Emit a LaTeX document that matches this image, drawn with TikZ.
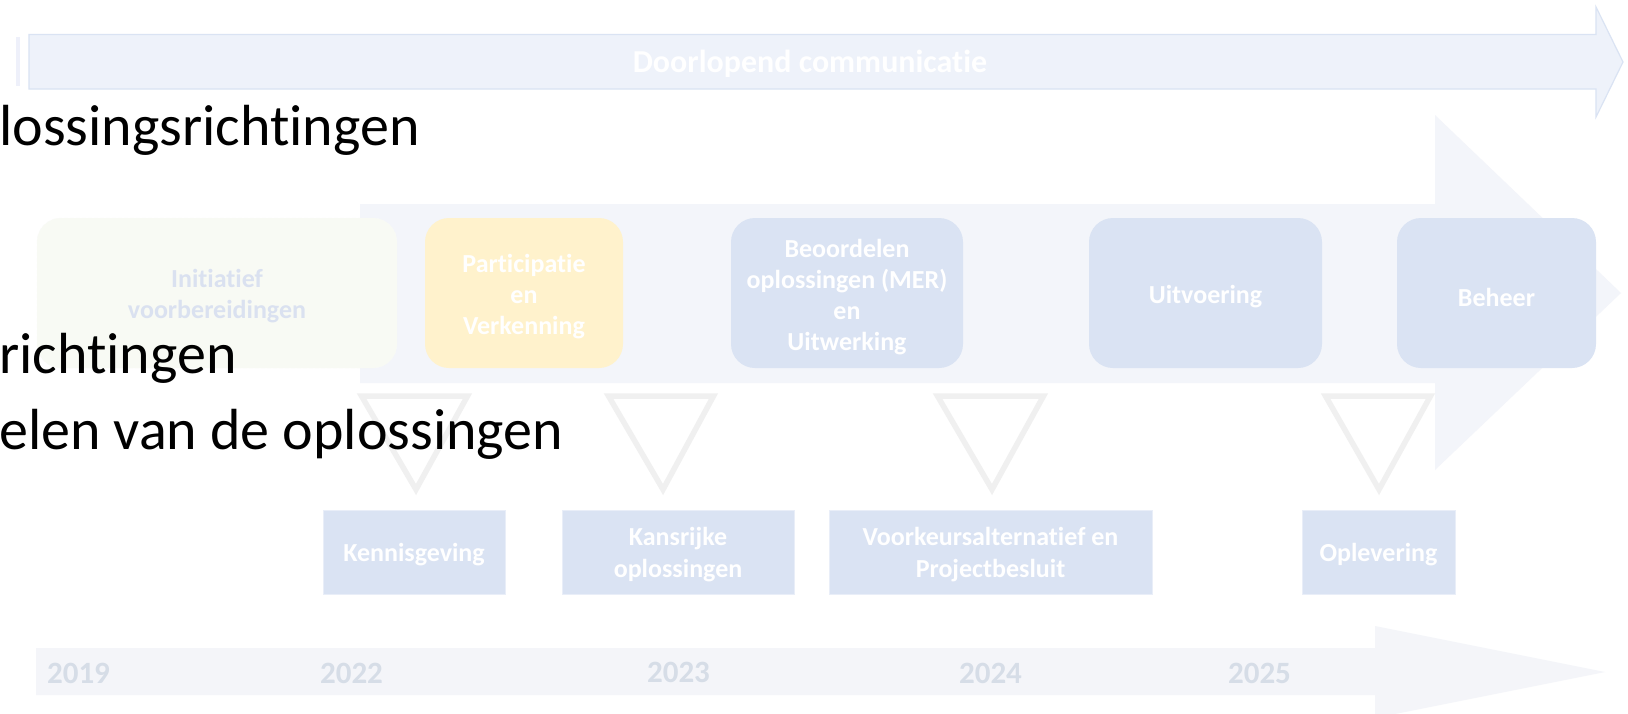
\documentclass[tikz,border=0pt]{standalone}
\usepackage{fontspec}
\setmainfont{Carlito}[Ligatures={NoCommon,NoContextual}]
\definecolor{bigfill}{HTML}{F3F5FA}
\definecolor{topfill}{HTML}{EEF2FA}
\definecolor{topbord}{HTML}{DAE3F3}
\definecolor{initfill}{HTML}{F8FAF4}
\definecolor{inittxt}{HTML}{DAE1F0}
\definecolor{partfill}{HTML}{FFF2CC}
\definecolor{bluefill}{HTML}{DAE3F3}
\definecolor{trigray}{HTML}{F0F0F0}
\definecolor{yearfill}{HTML}{F4F5F9}
\definecolor{yeartxt}{HTML}{D6DDE7}
\definecolor{barfill}{HTML}{EEF0FA}
\begin{document}
\begin{tikzpicture}[x=1pt,y=-1pt,
  phase/.style={rectangle, rounded corners=24pt, minimum height=150pt, inner sep=0pt},
  phasetxt/.style={inner sep=0pt, align=center, font=\bfseries\fontsize{26}{31}\selectfont, text=white},
  mile/.style={rectangle, minimum height=84pt, inner sep=0pt,
    fill=bluefill, draw=topbord!60, line width=1pt},
  miletxt/.style={inner sep=0pt, align=center, font=\bfseries\fontsize{26}{32}\selectfont, text=white},
  yearlbl/.style={anchor=base, font=\bfseries\fontsize{31}{37}\selectfont, text=yeartxt},
  bigtxt/.style={anchor=base west, inner sep=0pt, font=\fontsize{58}{70}\selectfont, text=black},
  marker/.style={draw=trigray, line width=5.5pt, line join=miter}]
\useasboundingbox (0,0) rectangle (1628,713);
\fill[white] (0,0) rectangle (1628,713);

% large background arrow
\fill[bigfill] (360,204) -- (1435,204) -- (1435,115) -- (1621,293) -- (1435,470) -- (1435,383) -- (360,383) -- cycle;

% top communication arrow
\fill[barfill] (15.5,37) rectangle (20,86);
\filldraw[fill=topfill, draw=topbord, line width=1.2pt]
  (29,34.5) -- (1596,34.5) -- (1596,7) -- (1623,62) -- (1596,117) -- (1596,89) -- (29,89) -- cycle;
\node[anchor=base, inner sep=0pt, font=\bfseries\fontsize{32}{38}\selectfont, text=white] (comm) at (810,72) {Doorlopend communicatie};

% phase boxes
\node[phase, fill=initfill, draw=initfill!97!black!40, dashed, line width=0.4pt, minimum width=360pt] (init) at (217,293) {};
\node[phase, fill=partfill, minimum width=198pt] (part) at (524,293) {};
\node[phase, fill=bluefill, minimum width=232pt] (beoord) at (847,293) {};
\node[phase, fill=bluefill, minimum width=233pt] (uitv) at (1205.5,293) {};
\node[phase, fill=bluefill, minimum width=199pt] (beheer) at (1496.5,293) {};
\node[phasetxt, text=inittxt] (initT) at ([yshift=-3pt]init.center) {Initiatief\\voorbereidingen};
\node[phasetxt] (partT) at ([yshift=-4pt]part.center) {Participatie\\en\\Verkenning};
\node[phasetxt] (beoordT) at ([yshift=-4pt]beoord.center) {Beoordelen\\oplossingen (MER)\\en\\Uitwerking};
\node[phasetxt] (uitvT) at ([yshift=-4pt]uitv.center) {Uitvoering};
\node[phasetxt] (beheerT) at ([yshift=-4pt]beheer.center) {Beheer};

% milestone markers
\draw[marker] (361.5,396) -- (467.5,396) -- (416,489.5) -- cycle;
\draw[marker] (608.5,396) -- (713.5,396) -- (663,489.5) -- cycle;
\draw[marker] (937.5,396) -- (1043.5,396) -- (992,489.5) -- cycle;
\draw[marker] (1325.5,396) -- (1430.5,396) -- (1379,489.5) -- cycle;

% milestone boxes
\node[mile, minimum width=182pt] (kennis) at (414,552) {};
\node[mile, minimum width=232pt] (kans) at (678,552) {};
\node[mile, minimum width=323pt] (voork) at (990.5,552) {};
\node[mile, minimum width=153pt] (oplev) at (1378.5,552) {};
\node[miletxt] (kennisT) at ([yshift=-3pt]kennis.center) {Kennisgeving};
\node[miletxt] (kansT) at ([yshift=-3pt]kans.center) {Kansrijke\\oplossingen};
\node[miletxt] (voorkT) at ([yshift=-3pt]voork.center) {Voorkeursalternatief en\\Projectbesluit};
\node[miletxt] (oplevT) at ([yshift=-3pt]oplev.center) {Oplevering};

% year arrow
\fill[yearfill] (36,648) -- (1375,648) -- (1375,626) -- (1605,672) -- (1375,718) -- (1375,695) -- (36,695) -- cycle;
\node[yearlbl] (y2019) at (78.5,683) {2019};
\node[yearlbl] (y2022) at (351.5,683) {2022};
\node[yearlbl] (y2023) at (678.5,682) {2023};
\node[yearlbl] (y2024) at (990.5,683) {2024};
\node[yearlbl] (y2025) at (1259.5,683) {2025};

% foreground text lines
\node[bigtxt] (t1) at (-1,145) {lossingsrichtingen};
\node[bigtxt] (t2) at (-1,373) {richtingen};
\node[bigtxt] (t3) at (-1,449) {elen van de oplossingen};
\end{tikzpicture}
\end{document}
